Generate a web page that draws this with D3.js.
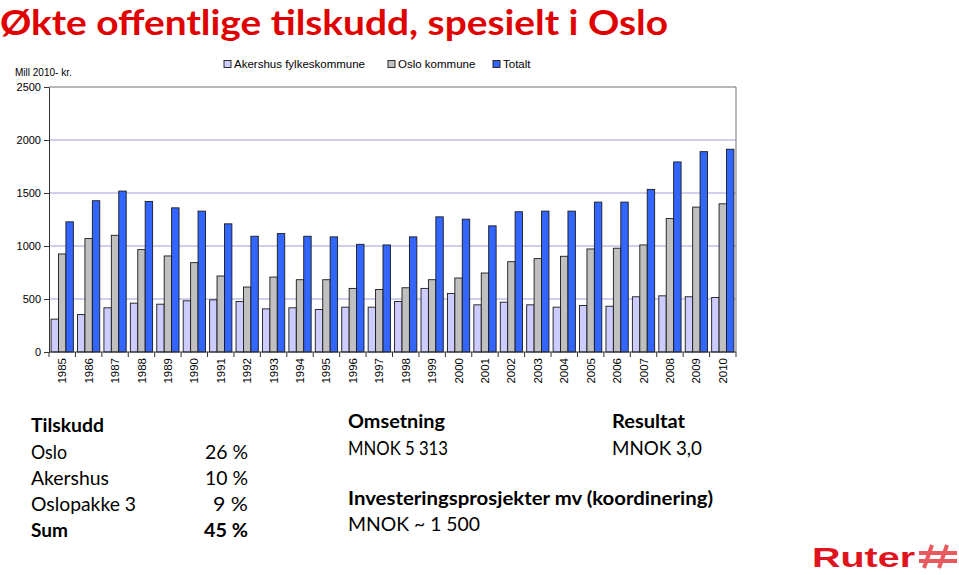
<!DOCTYPE html>
<html>
    <head>
        <meta charset="utf-8">
        <script src="https://d3js.org/d3.v7.min.js"></script>
        <style>
            body {
                margin: 0;
                background: white;
            }
            svg {
                display: block;
            }
            .axis text {
                font-family: "Liberation Sans", Arial, sans-serif;
                font-size: 11px;
                fill: #000;
            }
            .slide {
                font-family: Lato, "Open Sans", sans-serif;
                fill: #000;
            }
        </style>
    </head>
    <body>
    <script>

        const years = ['1985','1986','1987','1988','1989','1990','1991','1992','1993','1994','1995','1996','1997',
                       '1998','1999','2000','2001','2002','2003','2004','2005','2006','2007','2008','2009','2010'];
        const series = ['Akershus fylkeskommune', 'Oslo kommune', 'Totalt'];
        const akershus = [310,353,417,461,451,483,492,476,407,417,401,423,423,476,600,552,445,470,445,423,439,432,521,530,521,514];
        const oslo = [925,1070,1101,966,906,843,717,613,707,682,682,600,590,606,682,698,745,852,881,903,972,979,1010,1259,1367,1398];
        const totalt = [1228,1427,1518,1420,1360,1329,1209,1092,1117,1092,1086,1016,1010,1086,1275,1253,1190,1323,1329,1329,1414,1414,1534,1793,1890,1913];
        const yTicks = [0, 500, 1000, 1500, 2000, 2500];
        const colors = ['#ccccff', '#c0c0c0', '#3366ff'];

        const width = 959;
        const height = 575;

        var svg = d3.select('body')
            .append('svg')
            .attr('width', width)
            .attr('height', height);

        // fit a text element to a width measured off the slide
        function fit(sel, w) {
            sel.attr('textLength', w).attr('lengthAdjust', 'spacingAndGlyphs');
            return sel;
        }

        // title
        fit(svg.append('text')
            .attr('x', 0)
            .attr('y', 35)
            .style('font-family', 'Lato, sans-serif')
            .style('font-weight', 'bold')
            .style('font-size', '35px')
            .style('fill', '#e00000')
            .text('Økte offentlige tilskudd, spesielt i Oslo'), 668);

        // chart
        var x = d3.scaleBand().domain(years).range([49, 736]);
        var xSub = d3.scaleBand().domain(series).range([0, x.bandwidth()]).paddingOuter(0.28);
        var y = d3.scaleLinear().domain([0, 2500]).range([352, 87]);

        var rows = years.map(function(yr, i) {
            return {year: yr, values: [akershus[i], oslo[i], totalt[i]]};
        });

        // gridlines
        svg.append('g')
            .selectAll('line')
            .data(yTicks.filter(function(d) { return d > 0 && d < 2500; }))
            .enter()
            .append('line')
            .attr('x1', 49)
            .attr('x2', 736)
            .attr('y1', function(d) { return y(d); })
            .attr('y2', function(d) { return y(d); })
            .style('stroke', '#a0a0dc')
            .style('stroke-width', 1);

        // plot box, top and right
        svg.append('path')
            .attr('d', 'M49,' + y(2500) + 'H736V' + y(0))
            .style('fill', 'none')
            .style('stroke', '#707070')
            .style('stroke-width', 1);

        var groups = svg.append('g')
            .selectAll('g')
            .data(rows)
            .enter()
            .append('g')
            .attr('transform', function(d) { return 'translate(' + x(d.year) + ',0)'; });

        groups.selectAll('rect')
            .data(function(d) { return d.values.map(function(v, j) { return {s: series[j], v: v, c: colors[j]}; }); })
            .enter()
            .append('rect')
            .attr('x', function(d) { return xSub(d.s); })
            .attr('width', xSub.bandwidth())
            .attr('y', function(d) { return y(d.v); })
            .attr('height', function(d) { return y(0) - y(d.v); })
            .style('fill', function(d) { return d.c; })
            .style('stroke', '#1a1a1a')
            .style('stroke-width', 0.9);

        // y axis
        var yAxis = svg.append('g')
            .attr('class', 'axis')
            .attr('transform', 'translate(49,0)')
            .call(d3.axisLeft(y).tickValues(yTicks).tickSize(5).tickSizeOuter(0).tickPadding(3)
                .tickFormat(d3.format('d')));
        yAxis.select('.domain').style('stroke', '#333');
        yAxis.selectAll('.tick line').style('stroke', '#333');

        // x axis: boundary ticks and rotated labels
        var xAxis = svg.append('g')
            .attr('class', 'axis')
            .attr('transform', 'translate(0,' + y(0) + ')');
        xAxis.append('line')
            .attr('x1', 49).attr('x2', 736)
            .style('stroke', '#333');
        xAxis.selectAll('line.b')
            .data(years.concat(['end']))
            .enter()
            .append('line')
            .attr('class', 'b')
            .attr('x1', function(d) { return d === 'end' ? 736 : x(d); })
            .attr('x2', function(d) { return d === 'end' ? 736 : x(d); })
            .attr('y1', 0)
            .attr('y2', 5)
            .style('stroke', '#333');
        xAxis.selectAll('text')
            .data(years)
            .enter()
            .append('text')
            .attr('transform', function(d) { return 'translate(' + (x(d) + x.bandwidth() / 2) + ',6) rotate(-90)'; })
            .attr('dy', '0.35em')
            .style('text-anchor', 'end')
            .style('font-size', '11.5px')
            .text(function(d) { return d; });

        // unit label
        svg.append('text')
            .attr('x', 15)
            .attr('y', 76)
            .style('font-family', '"Liberation Sans", Arial, sans-serif')
            .style('font-size', '10px')
            .text('Mill 2010- kr.');

        // legend
        var legendX = [224, 388, 493];
        var legend = svg.append('g')
            .selectAll('g')
            .data(series)
            .enter()
            .append('g')
            .attr('transform', function(d, i) { return 'translate(' + legendX[i] + ',64)'; });
        legend.append('rect')
            .attr('x', 0).attr('y', -3.5)
            .attr('width', 7).attr('height', 7)
            .style('fill', function(d, i) { return colors[i]; })
            .style('stroke', '#1a1a1a')
            .style('stroke-width', 0.9);
        legend.append('text')
            .attr('x', 10)
            .attr('dy', '0.35em')
            .style('font-family', '"Liberation Sans", Arial, sans-serif')
            .style('font-size', '11.5px')
            .text(function(d) { return d; });

        // text blocks below the chart
        var tilskuddRows = ['Oslo', 'Akershus', 'Oslopakke 3', 'Sum'];
        var tilskuddPct = ['26 %', '10 %', '9 %', '45 %'];
        var rowW = [36, 78, 105, 37];
        var pctW = [43, 43, 35, 44];
        var slide = svg.append('g').attr('class', 'slide').style('font-size', '19px');

        fit(slide.append('text').attr('x', 31).attr('y', 432).style('font-weight', 'bold').text('Tilskudd'), 73);
        tilskuddRows.forEach(function(r, i) {
            var bold = i === tilskuddRows.length - 1 ? 'bold' : 'normal';
            fit(slide.append('text').attr('x', 31).attr('y', 459 + i * 26)
                .style('font-weight', bold).text(r), rowW[i]);
            fit(slide.append('text').attr('x', 248).attr('y', 459 + i * 26)
                .style('font-weight', bold).style('text-anchor', 'end').text(tilskuddPct[i]), pctW[i]);
        });

        fit(slide.append('text').attr('x', 348).attr('y', 428).style('font-weight', 'bold').text('Omsetning'), 97);
        fit(slide.append('text').attr('x', 348).attr('y', 455).text('MNOK 5 313'), 100);
        fit(slide.append('text').attr('x', 348).attr('y', 505).style('font-weight', 'bold')
            .text('Investeringsprosjekter mv (koordinering)'), 365);
        fit(slide.append('text').attr('x', 348).attr('y', 531).text('MNOK ~ 1 500'), 132);
        fit(slide.append('text').attr('x', 612).attr('y', 428).style('font-weight', 'bold').text('Resultat'), 73);
        fit(slide.append('text').attr('x', 612).attr('y', 455).text('MNOK 3,0'), 90);

        // logo
        fit(svg.append('text')
            .attr('x', 812)
            .attr('y', 567)
            .style('font-family', '"Liberation Sans", Arial, sans-serif')
            .style('font-weight', 'bold')
            .style('font-size', '28px')
            .style('fill', '#e0141e')
            .text('Ruter'), 103);
        var hash = svg.append('g').attr('transform', 'translate(919,545)')
            .style('stroke', '#e0141e').style('stroke-width', 4).style('fill', 'none').style('opacity', 0.7);
        [[13, 0, 5, 23], [28, 0, 20, 23], [0, 8, 38, 8], [0, 16, 38, 16]].forEach(function(l) {
            hash.append('line').attr('x1', l[0]).attr('y1', l[1]).attr('x2', l[2]).attr('y2', l[3]);
        });

    </script>
    </body>
</html>
